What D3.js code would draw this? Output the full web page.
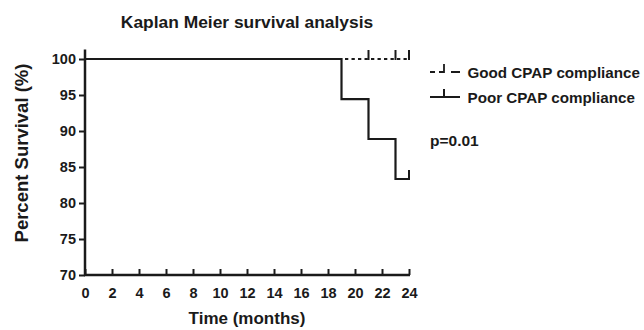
<!DOCTYPE html>
<html><head><meta charset="utf-8">
<script src="https://cdn.jsdelivr.net/npm/d3@7"></script>
<style>body{margin:0;background:#fff}svg{display:block}text{font-family:"Liberation Sans",Arial,sans-serif;font-weight:bold;fill:#1a1a1a}</style>
</head><body>
<svg id="c" width="644" height="330"></svg>
<script>
// Data
const title = "Kaplan Meier survival analysis";
const xLabel = "Time (months)";
const yLabel = "Percent Survival (%)";
const xTicks = [0,2,4,6,8,10,12,14,16,18,20,22,24];
const yTicks = [70,75,80,85,90,95,100];
// Poor CPAP compliance: step times and survival after each step
const poorTimes = [0, 19, 21, 23, 24];
const poorSurv  = [100, 94.44, 88.89, 83.33, 83.33];
const poorCensor = [24];
// Good CPAP compliance: no events
const goodTimes = [0, 24];
const goodSurv  = [100, 100];
const goodCensor = [21, 23, 24];
const seriesNames = ["Good CPAP compliance", "Poor CPAP compliance"];
const pText = "p=0.01";

const svg = d3.select("#c");
const x = d3.scaleLinear().domain([0,24]).range([85,409]);
const y = d3.scaleLinear().domain([70,100]).range([275,59]);
const ink = "#1a1a1a";
const FF = "'Liberation Sans',Arial,sans-serif";

// axes
const gx = svg.append("g").attr("transform",`translate(0,${y(70)})`)
  .call(d3.axisBottom(x).tickValues(xTicks).tickSize(6).tickSizeOuter(0));
const gy = svg.append("g").attr("transform",`translate(${x(0)},0)`)
  .call(d3.axisLeft(y).tickValues(yTicks).tickSize(6).tickSizeOuter(0).tickPadding(2));
[gx,gy].forEach(g=>{
  g.select(".domain").remove();
  g.selectAll(".tick line").attr("stroke",ink).attr("stroke-width",2);
  g.selectAll("text").attr("font-size",14.5).attr("font-weight","bold").attr("fill",ink)
   .attr("font-family",FF);
});
gx.selectAll(".tick line").attr("y1",0).attr("y2",-6);
gx.selectAll("text").attr("dy",null).attr("y",22.5);
gy.selectAll("text").attr("x",-9);
// axis lines
svg.append("line").attr("x1",x(0)-1).attr("x2",x(24)+1).attr("y1",y(70)).attr("y2",y(70)).attr("stroke",ink).attr("stroke-width",2.5);
svg.append("line").attr("x1",x(0)).attr("x2",x(0)).attr("y1",y(70)+1).attr("y2",49.5).attr("stroke",ink).attr("stroke-width",2.5);

// step lines
const stepLine = d3.line().x(d=>x(d[0])).y(d=>y(d[1])).curve(d3.curveStepAfter);
svg.append("path").datum(goodTimes.map((t,i)=>[t,goodSurv[i]]))
  .attr("d",stepLine).attr("fill","none").attr("stroke",ink).attr("stroke-width",2)
  .attr("stroke-dasharray","3.3,3.2");
svg.append("path").datum(poorTimes.map((t,i)=>[t,poorSurv[i]]))
  .attr("d",stepLine).attr("fill","none").attr("stroke",ink).attr("stroke-width",2.2);

// censor marks
function survAt(times,surv,t){let s=surv[0];times.forEach((tt,i)=>{if(tt<=t)s=surv[i];});return s;}
svg.selectAll(".cg").data(goodCensor).join("line")
  .attr("x1",d=>x(d)).attr("x2",d=>x(d)).attr("y1",d=>y(survAt(goodTimes,goodSurv,d))+1).attr("y2",d=>y(survAt(goodTimes,goodSurv,d))-9)
  .attr("stroke",ink).attr("stroke-width",2);
svg.selectAll(".cp").data(poorCensor).join("line")
  .attr("x1",d=>x(d)).attr("x2",d=>x(d)).attr("y1",d=>y(survAt(poorTimes,poorSurv,d))+1).attr("y2",d=>y(survAt(poorTimes,poorSurv,d))-9)
  .attr("stroke",ink).attr("stroke-width",2);

// legend
const lg = svg.append("g");
// good
lg.append("line").attr("x1",430).attr("x2",435).attr("y1",72).attr("y2",72).attr("stroke",ink).attr("stroke-width",2);
lg.append("path").attr("d","M439,72 L444,72 L444,64").attr("fill","none").attr("stroke",ink).attr("stroke-width",1.8);
lg.append("line").attr("x1",451).attr("x2",460).attr("y1",72).attr("y2",72).attr("stroke",ink).attr("stroke-width",2);
lg.append("text").attr("x",467.5).attr("y",77.5).attr("font-size",15.2).text(seriesNames[0]);
// poor
lg.append("line").attr("x1",430).attr("x2",460).attr("y1",97).attr("y2",97).attr("stroke",ink).attr("stroke-width",2);
lg.append("line").attr("x1",444).attr("x2",444).attr("y1",97).attr("y2",89).attr("stroke",ink).attr("stroke-width",2);
lg.append("text").attr("x",467.5).attr("y",102.5).attr("font-size",15.2).text(seriesNames[1]);

svg.append("text").attr("x",430).attr("y",145.5).attr("font-size",15.5).text(pText);

// titles
svg.append("text").attr("x",247).attr("y",28).attr("text-anchor","middle").attr("font-size",17.4).text(title);
svg.append("text").attr("x",247).attr("y",324).attr("text-anchor","middle").attr("font-size",17).text(xLabel);
svg.append("text").attr("transform","translate(28,153) rotate(-90)").attr("text-anchor","middle").attr("font-size",18.5).text(yLabel);
</script>
</body></html>
